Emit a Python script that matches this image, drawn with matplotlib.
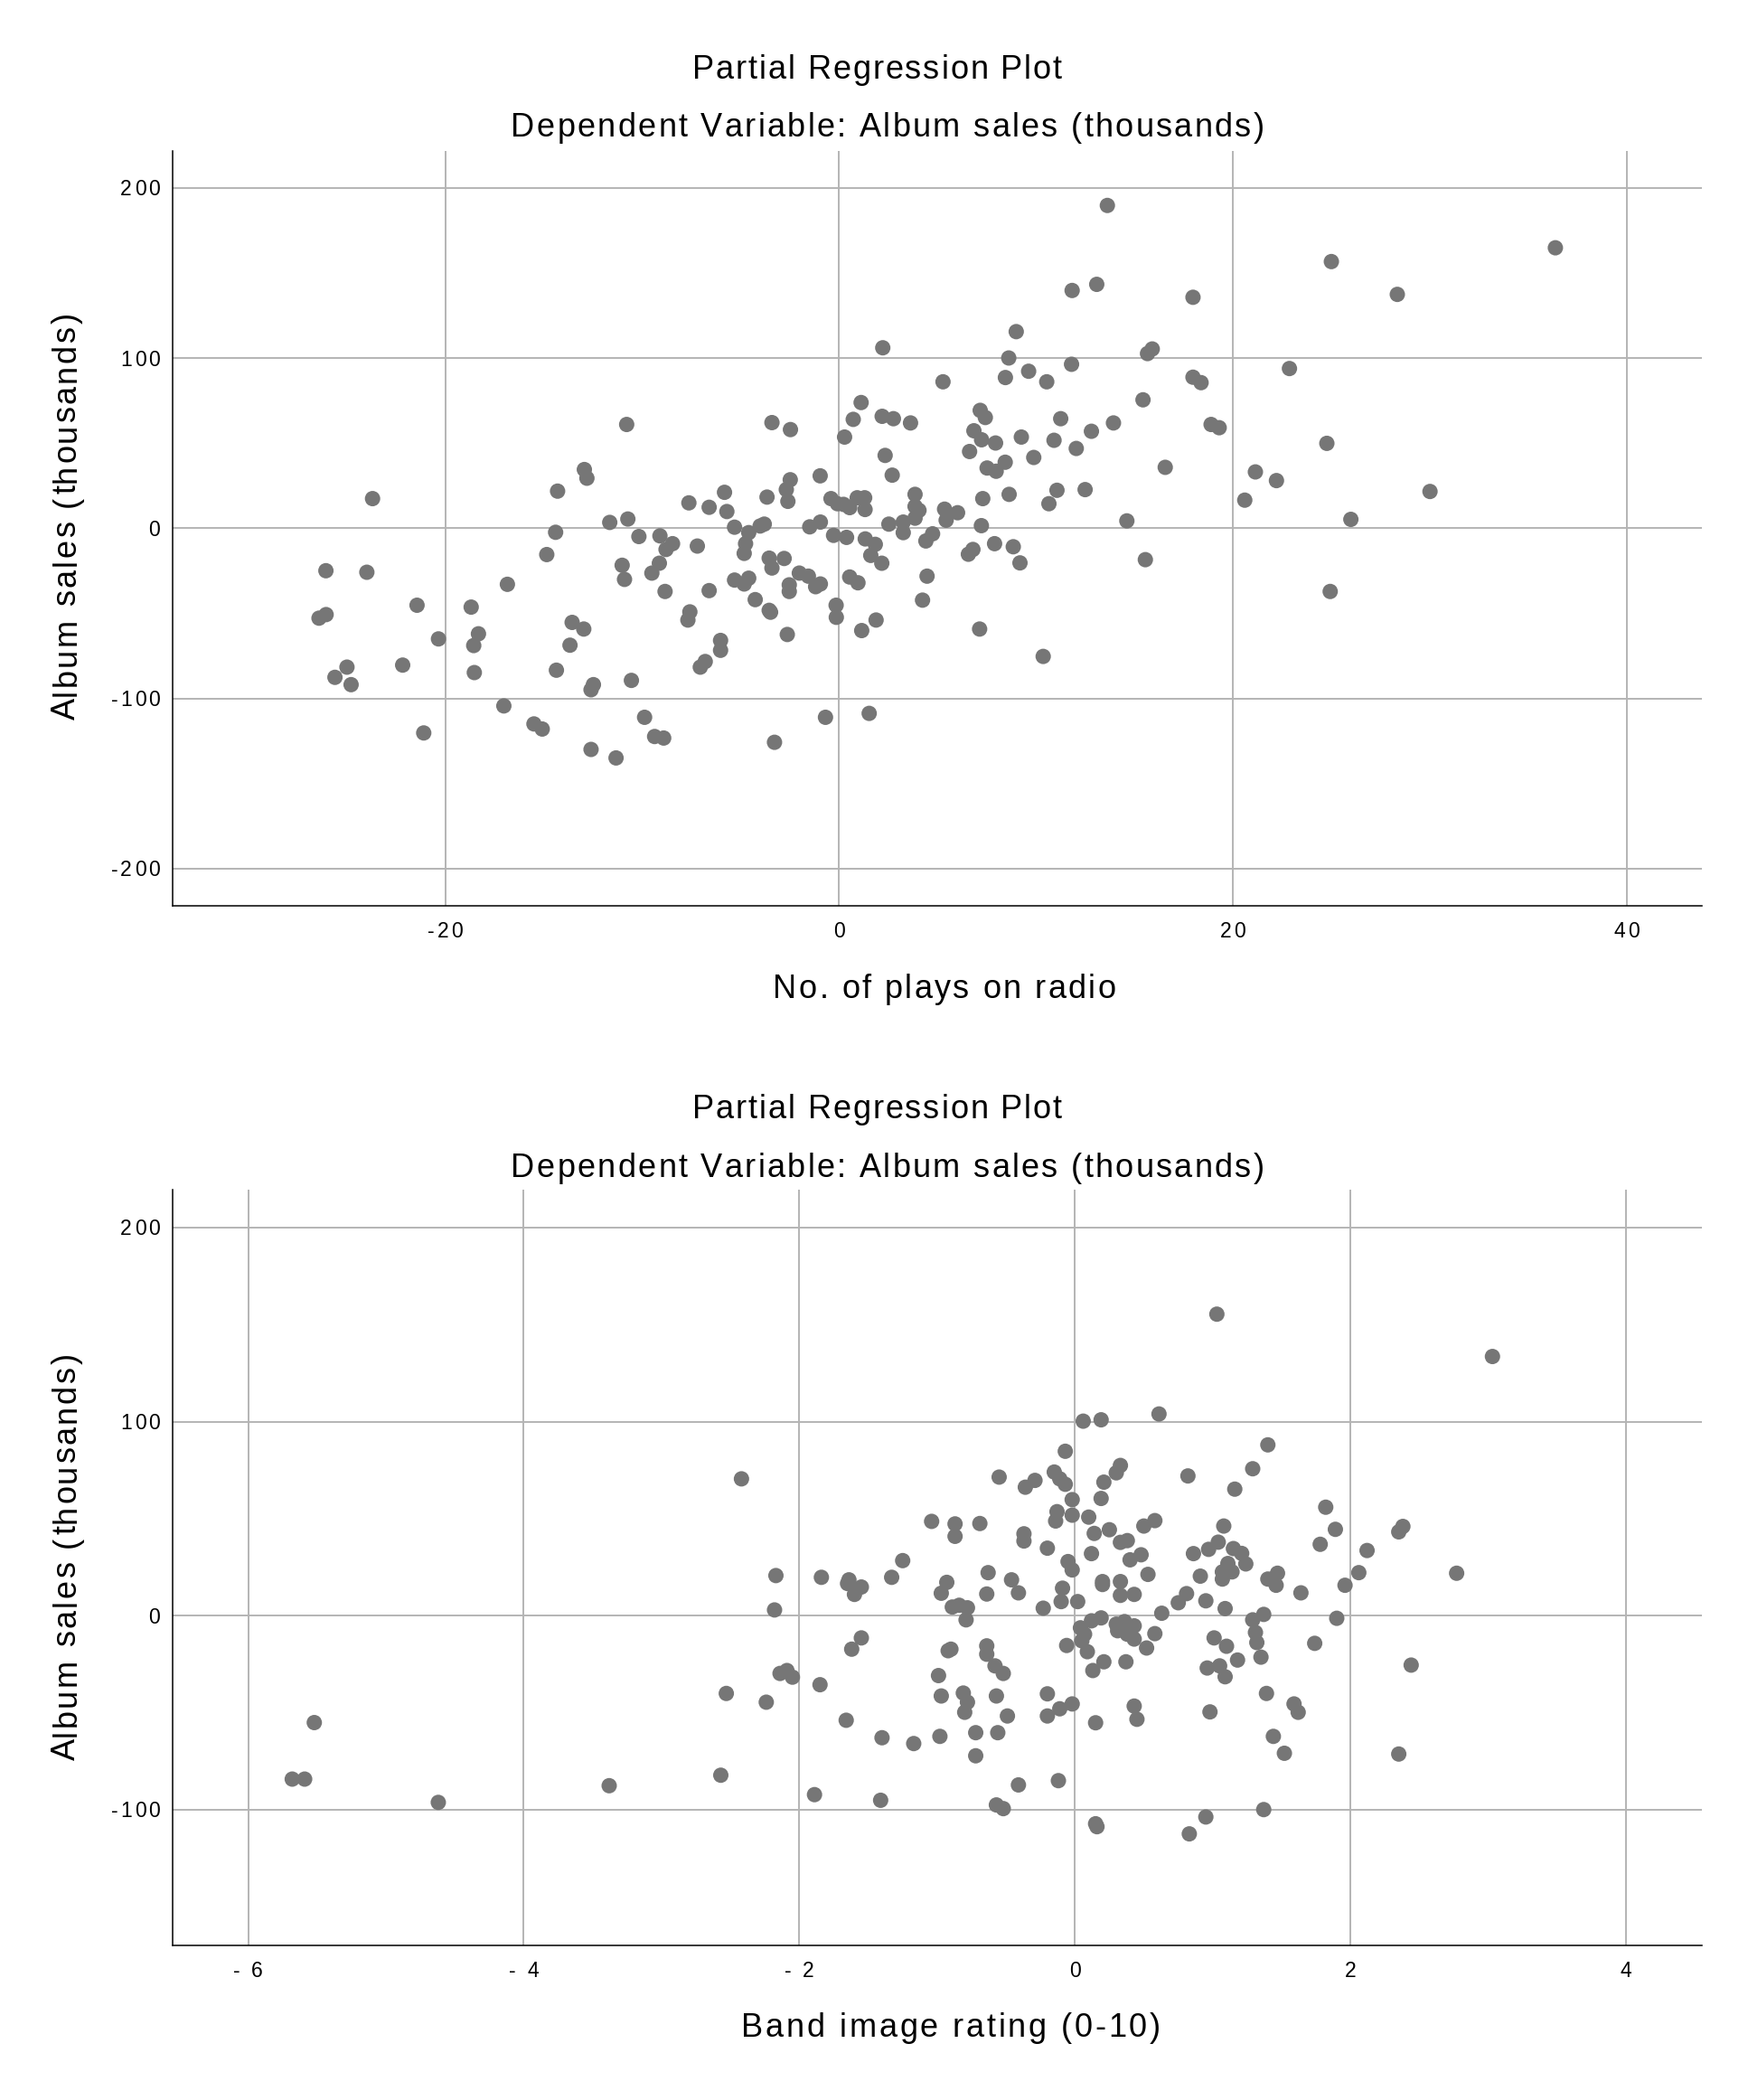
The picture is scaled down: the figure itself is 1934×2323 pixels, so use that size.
import numpy as np
import matplotlib.pyplot as plt
from matplotlib.font_manager import FontProperties, findfont, get_font
from matplotlib.transforms import IdentityTransform

plt.rcParams['font.family'] = ['Liberation Sans', 'DejaVu Sans']
plt.rcParams['axes.unicode_minus'] = False

# partial residuals: No. of plays on radio vs album sales
radio_x = [
    -23.7, -26.07, -23.99, -21.44, -26.42, -26.06, -20.35, -25.0, -25.61, -24.79,
    -22.17, -21.1, -18.69, -18.32, -18.56, -18.53, -16.85, -17.03, -15.5, -15.08,
    -14.85, -14.4, -14.3, -12.94, -12.81, -10.79, -11.65, -10.73, -10.17, -9.1,
    -8.46, -8.79, -9.13, -9.51, -11.02, -10.9, -8.84, -7.63, -7.2, -7.58,
    -7.68, -13.56, -12.97, -13.67, -14.36, -12.48, -12.6, -10.55, -9.88, -9.37,
    -8.91, -12.6, -11.33, -7.05, -6.8,
    13.63, 11.84, 13.09, 9.0, 2.22, 8.62, 8.45, 9.63, 10.55, 11.81,
    5.28, 1.12, 0.72, 0.28, 2.19, 2.76, 3.63, -3.41, -2.47, 2.34,
    2.7, 7.17, 7.43, 6.85, 7.24, 7.95, 6.63, 9.26, 11.26, 10.92,
    12.82, 13.94, 12.05, 9.89, 7.52, 7.98, 8.44, 8.64, 7.3, 7.23,
    11.07, 10.66, 12.5, 14.62, 7.9, 8.85, 9.19, 6.8, 6.57, 7.14,
    10.37, 3.86, 3.86, 4.06, 3.86, 5.36, 6.02, 5.44, 4.75, 4.41,
    4.47, 4.24, 3.26, 3.26, 2.53, -0.41, -0.08, 0.23, 0.54, 0.92,
    1.3, 1.32, -0.28, 0.38, 1.33, 1.84, 1.61, 2.17, 0.54, 0.96,
    -0.15, -0.14, 1.88, 1.15, 1.53, -0.69, -3.28, -0.96, -1.49, -0.95,
    -2.48, -2.68, -2.6, -3.66, -5.82, -6.6, -5.7, -5.31, -4.59, -4.01,
    -3.8, -4.75, -4.82, -3.55, -2.79, -3.41, -2.02, -1.56, -0.95, -1.19,
    -2.53, -2.53, -5.31, -4.59, -4.82, -6.6, -4.26, -3.55, -3.48, -2.63,
    -6.02, -6.02,
    36.39, 25.01, 28.36, 17.98, 15.91, 15.67, 22.88, 17.98, 18.39, 15.44,
    18.9, 19.31, 24.78, 16.57, 21.15, 22.22, 20.61, 30.02, 26.0, 15.56,
    24.95,
]
radio_y = [
    17.5, -24.9, -25.8, -45.2, -52.8, -50.7, -65.0, -81.6, -87.6, -91.9,
    -80.4, -120.3, -46.3, -62.0, -68.9, -84.8, -32.9, -104.4, -115.0, -118.0,
    -15.4, -2.3, 21.9, 34.6, 29.5, 61.1, 3.5, 5.5, -4.8, -4.4,
    -9.0, -12.4, -20.5, -26.3, -21.7, -30.0, -37.1, 15.0, -10.4, -49.1,
    -53.9, -55.3, -59.2, -68.7, -83.4, -91.9, -94.9, -89.4, -111.1, -122.4,
    -123.3, -130.0, -135.0, -81.6, -78.3,
    189.9, 139.9, 143.5, 115.7, 106.2, 100.2, 88.7, 92.4, 86.2, 96.5,
    86.2, 74.0, 64.1, 53.7, 65.9, 64.5, 62.0, 62.2, 58.1, 42.9,
    31.3, 69.4, 65.2, 57.4, 52.1, 50.2, 45.2, 53.7, 64.5, 51.8,
    57.1, 62.0, 47.0, 41.7, 35.5, 33.6, 38.9, 20.0, 17.5, 1.6,
    22.4, 14.5, 22.8, 4.4, -9.0, -10.8, -20.3, -12.4, -15.2, -59.2,
    -75.3, 20.0, 12.9, 10.6, 6.0, 11.3, 9.2, 4.8, -3.2, -7.4,
    -28.1, -42.2, 3.7, -2.5, 2.5, 17.5, 14.5, 14.1, 12.2, 18.0,
    18.0, 11.1, -4.1, -5.3, -6.2, -9.4, -15.9, -20.5, -28.6, -32.0,
    -45.2, -52.3, -53.9, -60.1, -108.8, -111.1, -125.8, 30.9, 0.9, 3.7,
    28.6, 22.8, 15.9, 18.4, 21.2, 12.4, 9.9, 0.7, -2.5, 1.4,
    2.5, -9.0, -14.7, -17.5, -17.7, -23.3, -26.3, -28.1, -32.7, -34.3,
    -33.2, -37.1, -30.4, -29.3, -32.7, -36.6, -41.9, -48.2, -49.3, -62.4,
    -65.9, -71.7,
    165.0, 156.9, 137.6, 135.9, 105.5, 102.8, 94.0, 88.9, 85.7, 75.6,
    61.1, 59.2, 50.0, 35.9, 33.2, 28.1, 16.6, 21.7, 5.3, -18.4,
    -37.1,
]

# partial residuals: Band image rating vs album sales
image_x = [
    -5.52, -5.68, -5.59, -4.62, -3.38,
    -2.42, -2.53, -2.57, -2.17, -2.18, -2.14, -2.09, -2.05, -2.24, -1.85,
    -1.89, -1.84, -1.64, -1.65, -1.55, -1.6, -1.33, -1.25, -1.55, -1.62,
    -1.66, -1.4, -1.41, -1.17, -1.04, -0.87, -0.87, -0.69, -0.55, -0.93,
    -0.97, -0.89, -0.84, -0.78, -0.79, -0.63, -0.64, -0.92, -0.9, -0.64,
    -0.64, -0.58, -0.52, -0.99, -0.97, -0.81, -0.78, -0.8, -0.57, -0.98,
    -0.72, -0.56, -0.72, -0.57, -0.52,
    1.03, 0.61, 0.06, 0.19, 1.4, 1.29, 1.16, 0.82, -0.07, -0.36,
    -0.29, -0.15, -0.11, -0.07, -0.02, -0.13, -0.14, -0.02, 0.1, 0.21,
    0.3, 0.33, 0.19, 0.14, 0.25, 0.33, 0.38, 0.5, 0.58, 0.4,
    0.48, 0.12, 0.53, 0.2, 0.2, 0.33, 0.33, 0.43, -0.37, -0.37,
    -0.2, -0.05, -0.02, -0.46, -0.41, -0.09, -0.1, 0.02, -0.23, 0.04,
    0.07, 0.12, 0.19, 0.05, 0.09, -0.06, 0.3, 0.36, 0.43, 0.31,
    0.38, 0.43, 0.58, 0.52, 0.63, 0.21, 0.13, 0.37, 0.43, 0.45,
    0.15, -0.02, -0.11, -0.2, -0.2, -0.49, -0.12, -0.41, 0.15, 0.16,
    0.83, 0.95, 1.37, 1.35, 1.32, 1.31, 1.29, 1.37, 1.01, 1.1,
    1.18, 0.96, 1.05, 1.09, 0.98, 0.95, 1.09, 0.91, 0.75, 0.81,
    0.86, 0.97, 1.04, 1.08, 1.15, 1.21, 1.24, 1.11, 1.07, 1.14,
    1.07,
    3.03, 1.82, 1.89, 1.78, 2.12, 2.06, 1.96, 2.35, 2.38, 2.77,
    1.4, 1.47, 1.46, 1.64, 1.9, 1.74, 2.44, 1.39, 1.59, 1.62,
    1.44, 1.52, 2.35,
]
image_y = [
    -55.0, -84.1, -84.1, -96.1, -87.5,
    70.5, -40.0, -82.1, 20.7, 3.0, -29.7, -28.2, -31.6, -44.5, -35.5,
    -92.1, 19.8, 18.5, 16.6, 14.8, 11.0, 19.8, 28.4, -11.4, -17.2,
    -53.8, -62.8, -95.0, -65.8, 48.6, 47.3, 40.9, 47.5, 71.4, 17.2,
    11.6, 4.5, 5.4, 4.1, -2.1, 22.2, 11.2, -18.0, -17.2, -15.5,
    -19.8, -25.8, -29.7, -30.8, -41.3, -39.8, -44.5, -49.7, -41.3, -62.1,
    -60.2, -60.2, -72.1, -97.4, -99.3,
    155.3, 103.9, 100.2, 100.9, 88.0, 75.7, 65.2, 72.0, 84.7, 66.2,
    69.7, 74.0, 70.5, 67.7, 59.8, 53.6, 48.8, 51.8, 50.8, 68.8,
    73.6, 77.4, 60.4, 42.4, 44.3, 37.8, 38.7, 46.2, 49.0, 28.8,
    31.4, 32.0, 21.3, 17.6, 16.1, 17.6, 10.5, 11.0, 42.2, 38.5,
    34.8, 27.9, 23.6, 18.5, 11.8, 14.2, 7.3, 7.3, 3.9, -6.2,
    -9.5, -2.6, -1.1, -12.9, -18.5, -15.3, -4.3, -3.0, -5.2, -7.7,
    -9.5, -12.0, -9.2, -16.6, 1.3, -23.7, -28.2, -23.7, -46.5, -53.3,
    -55.1, -45.4, -47.9, -40.2, -51.6, -51.6, -84.9, -87.1, -107.1, -108.6,
    -112.3, -103.6, -99.8, -21.3, -13.8, -8.6, -2.1, 0.7, -11.4, -15.7,
    -22.8, -26.9, -25.8, -31.4, -49.5, 7.7, 3.7, 20.4, 6.7, 11.4,
    32.0, 34.2, 37.9, 46.2, 34.6, 32.1, 26.7, 26.9, 22.6, 22.6,
    18.9,
    133.5, 55.9, 44.5, 36.8, 33.6, 22.2, 15.7, 43.2, 46.0, 21.9,
    18.9, 21.9, 15.7, 11.8, -1.3, -14.2, -25.4, -40.0, -45.4, -49.7,
    -62.1, -70.8, -71.2,
]

title1 = 'Partial Regression Plot'
title2 = 'Dependent Variable: Album sales (thousands)'
ylabel = 'Album sales (thousands)'

radio_xticks = [-20, 0, 20, 40]
radio_xticklabels = ['-20', '0', '20', '40']
radio_yticks = [-200, -100, 0, 100, 200]
radio_yticklabels = ['-200', '-100', '0', '100', '200']
image_xticks = [-6, -4, -2, 0, 2, 4]
image_xticklabels = ['- 6', '- 4', '- 2', '0', '2', '4']
image_yticks = [-100, 0, 100, 200]
image_yticklabels = ['-100', '0', '100', '200']

W, H = 1934, 2323
FONT = FontProperties(family='Liberation Sans')


def advances(s, size):
    font = get_font(findfont(FONT))
    font.set_size(size, 100)
    return [font.load_char(ord(c)).linearHoriAdvance / 65536 for c in s]


def spaced_text(fig, s, x, y, size, track=None, width=None, ha='center', rotation=0):
    # SPSS output has wide letter spacing; place the characters one by one
    adv = advances(s, size)
    if width is not None and len(s) > 1:
        track = (width - sum(adv)) / (len(s) - 1)
    track = track or 0
    total = sum(adv) + track * (len(s) - 1)
    start = {'center': -total / 2, 'right': -total, 'left': 0}[ha]
    off = start
    for c, a in zip(s, adv):
        if rotation == 0:
            px, py = x + off, y
        else:
            px, py = x, y + off
        fig.text(px, py, c, transform=IdentityTransform(), fontsize=size,
                 ha='left', va='baseline', rotation=rotation,
                 rotation_mode='anchor')
        off += a + track


panels = [
    dict(x=radio_x, y=radio_y, xlabel='No. of plays on radio',
         xticks=radio_xticks, xticklabels=radio_xticklabels,
         yticks=radio_yticks, yticklabels=radio_yticklabels,
         xlim=(-33.87, 43.82), ylim=(-221.8, 222.1),
         rect=(190.7, 166.7, 1882.7, 1001.7),
         t1=86.7, t2=151, xl=(1045, 1104, 379), yl=571),
    dict(x=image_x, y=image_y, xlabel='Band image rating (0-10)',
         xticks=image_xticks, xticklabels=image_xticklabels,
         yticks=image_yticks, yticklabels=image_yticklabels,
         xlim=(-6.55, 4.548), ylim=(-169.6, 219.4),
         rect=(190.7, 1316, 1882.7, 2151.7),
         t1=1237, t2=1301.7, xl=(1052, 2253, 464), yl=1722),
]

fig = plt.figure(figsize=(W / 100, H / 100), dpi=100)

for p in panels:
    l, t, r, b = p['rect']
    ax = fig.add_axes([l / W, 1 - b / H, (r - l) / W, (b - t) / H])
    ax.scatter(p['x'], p['y'], s=150, color='#767676', edgecolors='none', zorder=3)
    ax.set_xlim(*p['xlim'])
    ax.set_ylim(*p['ylim'])
    ax.set_xticks(p['xticks'])
    ax.set_yticks(p['yticks'])
    ax.grid(True, color='#b4b4b4', linewidth=1.4, zorder=0)
    ax.set_axisbelow(True)
    for side in ['top', 'right']:
        ax.spines[side].set_visible(False)
    for side in ['left', 'bottom']:
        ax.spines[side].set_linewidth(1.1)
        ax.spines[side].set_color('black')
    ax.tick_params(axis='both', length=0, labelbottom=False, labelleft=False)

    # tick labels, placed through the axes' own data transform
    for v, lab in zip(p['xticks'], p['xticklabels']):
        px = ax.transData.transform((v, p['ylim'][0]))[0]
        spaced_text(fig, lab, px, H - (b + 35.5), 16.5, track=3.0)
    for v, lab in zip(p['yticks'], p['yticklabels']):
        py = ax.transData.transform((p['xlim'][0], v))[1]
        spaced_text(fig, lab, 177.3, py - 8.2, 16.5, track=3.0, ha='right')

    spaced_text(fig, title1, 970.5, H - p['t1'], 26, width=409)
    spaced_text(fig, title2, 982, H - p['t2'], 26, width=833)
    xc, xb, xw = p['xl']
    spaced_text(fig, p['xlabel'], xc, H - xb, 26, width=xw)
    spaced_text(fig, ylabel, 83.4, H - p['yl'], 26, width=450, rotation=90)

fig.savefig('out.png', dpi=100, facecolor='white')
